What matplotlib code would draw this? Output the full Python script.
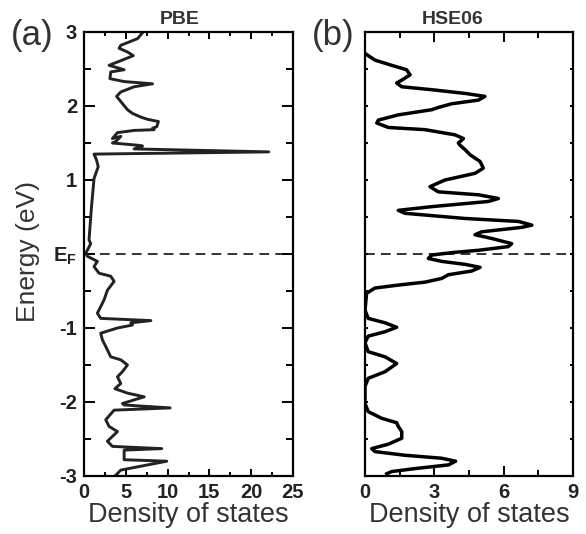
import numpy as np
import matplotlib
matplotlib.use("Agg")
from matplotlib import pyplot as plt
from matplotlib.ticker import MultipleLocator, FixedLocator

plt.rcParams['font.family'] = ['Liberation Sans', 'DejaVu Sans']
plt.rcParams['mathtext.fontset'] = 'custom'
plt.rcParams['mathtext.bf'] = 'Liberation Sans:bold'
plt.rcParams['mathtext.rm'] = 'Liberation Sans'

# PBE density of states (dos, energy), top to bottom
pbe_dos = [7.0, 6.4, 4.4, 4.2, 5.2, 5.9, 4.8, 3.0, 4.8, 3.2, 3.1, 4.8, 8.2, 6.0, 4.4, 3.9, 4.4,
           5.2, 5.8, 6.8, 7.6, 8.9, 8.7, 8.2, 8.4, 6.0, 4.0, 3.4, 4.4, 3.8, 3.4,
           6.4, 7.0, 6.0, 22.1, 1.2, 1.5, 1.7, 1.2, 0.9, 0.6, 0.8, 0.4, 0.2,
           0.4, 1.6, 1.2, 1.8, 3.2, 3.6, 3.4, 2.8, 2.4, 1.6, 2.0, 8.0, 5.6, 5.8, 4.0,
           2.0, 2.2, 2.6, 3.2, 4.4, 5.2, 4.6, 4.0, 4.4, 3.7, 5.2, 7.2, 4.6, 4.8, 10.3,
           3.6, 2.6, 3.0, 4.0, 2.8, 3.4, 9.3, 4.8, 4.8, 9.9, 4.4, 3.8]
pbe_e = [2.99, 2.91, 2.82, 2.78, 2.73, 2.68, 2.63, 2.55, 2.49, 2.46, 2.37, 2.33, 2.30, 2.26, 2.19,
         2.13, 2.06, 1.95, 1.90, 1.85, 1.82, 1.79, 1.72, 1.70, 1.68, 1.67, 1.64, 1.56, 1.59, 1.52,
         1.50, 1.47, 1.46, 1.42, 1.38, 1.35, 1.27, 1.18, 1.02, 0.64, 0.19, 0.14, 0.05, 0.01,
         -0.03, -0.10, -0.17, -0.26, -0.30, -0.37, -0.40, -0.49, -0.62, -0.80, -0.87, -0.90,
         -0.93, -0.96, -1.00, -1.07, -1.16, -1.25, -1.39, -1.43, -1.50, -1.59, -1.66, -1.75,
         -1.82, -1.88, -1.93, -2.02, -2.04, -2.08, -2.11, -2.24, -2.33, -2.40, -2.53, -2.60,
         -2.63, -2.65, -2.78, -2.80, -2.92, -2.99]

# HSE06 density of states
hse_dos = [0.0, 0.43, 1.15, 1.80, 1.95, 1.59, 1.37, 1.59, 2.89, 4.33, 5.19, 4.91, 3.75, 3.17,
           2.89, 1.44, 0.58, 0.51, 1.01, 2.60, 3.90, 4.26, 4.04, 4.11, 4.33, 4.55, 4.98, 5.12,
           4.76, 3.46, 2.81, 3.17, 4.91, 5.77, 5.34, 2.89, 1.44, 1.73, 4.33, 6.64, 7.22, 6.78,
           5.05, 4.76, 5.48, 6.35, 6.20, 4.91, 3.80, 2.89, 2.74, 3.32, 4.33, 4.98, 4.62, 3.61,
           3.32, 2.60, 1.44, 0.43, 0.07, 0.0, 0.14, 0.87, 1.37, 0.87, 0.14, 0.0, 0.14, 0.87,
           1.37, 0.87, 0.14, 0.0, 0.0, 0.14, 0.72, 1.37, 1.44, 1.59, 1.59, 1.01, 0.29, 0.43,
           1.73, 3.32, 3.92, 3.61, 2.16, 1.15, 0.94]
hse_e = [2.71, 2.62, 2.55, 2.49, 2.42, 2.35, 2.31, 2.26, 2.22, 2.17, 2.13, 2.08, 2.03, 1.98,
         1.95, 1.88, 1.81, 1.77, 1.71, 1.68, 1.61, 1.56, 1.50, 1.47, 1.41, 1.34, 1.25, 1.16,
         1.09, 1.00, 0.91, 0.84, 0.80, 0.75, 0.71, 0.64, 0.59, 0.55, 0.48, 0.44, 0.39, 0.36,
         0.30, 0.26, 0.21, 0.14, 0.10, 0.05, 0.02, -0.014, -0.06, -0.10, -0.14, -0.18, -0.23,
         -0.28, -0.33, -0.38, -0.42, -0.46, -0.53, -0.76, -0.87, -0.93, -0.99, -1.05, -1.11,
         -1.20, -1.32, -1.39, -1.48, -1.59, -1.68, -1.79, -2.02, -2.13, -2.22, -2.28, -2.33,
         -2.40, -2.49, -2.57, -2.63, -2.67, -2.72, -2.76, -2.80, -2.85, -2.90, -2.94, -2.97]

e_ticks = [-3, -2, -1, 0, 1, 2, 3]
e_labels = ['-3', '-2', '-1', r'$\mathbf{E_F}$', '1', '2', '3']

W, H = 586, 534
fig = plt.figure(figsize=(W / 100, H / 100), dpi=100)
axa = fig.add_axes([84 / W, 1 - 476 / H, 209 / W, 444 / H])
axb = fig.add_axes([365 / W, 1 - 476 / H, 208 / W, 444 / H])

for ax in (axa, axb):
    for s in ax.spines.values():
        s.set_linewidth(1.6)
    ax.set_ylim(-3, 3)
    ax.axhline(0, color='#333333', lw=1.4, ls=(0, (5, 3.2)), zorder=1)
    ax.yaxis.set_minor_locator(MultipleLocator(0.5))
    ax.tick_params(which='both', direction='in', top=True, right=True, width=1.4,
                   labelsize=14.5, pad=5, labelcolor='#222222')

axa.plot(pbe_dos, pbe_e, color='#222222', lw=2.1, solid_joinstyle='round')
axa.set_xlim(0, 25)
axa.xaxis.set_major_locator(MultipleLocator(5))
axa.xaxis.set_minor_locator(MultipleLocator(2.5))
axa.yaxis.set_major_locator(FixedLocator(e_ticks))
axa.set_yticklabels(e_labels)
axa.tick_params(axis='y', which='major', length=8)
axa.tick_params(axis='y', which='minor', length=5)
axa.tick_params(axis='x', which='major', length=5)
axa.tick_params(axis='x', which='minor', length=3)
for lab in axa.get_xticklabels() + axa.get_yticklabels():
    lab.set_fontweight('bold')
axa.set_xlabel('Density of states', fontsize=19.5, color='#333333', labelpad=0)
axa.set_title('PBE', fontsize=14, fontweight='bold', color='#333333', pad=6, x=0.46)

axb.plot(hse_dos, hse_e, color='black', lw=2.5, solid_joinstyle='round')
axb.set_xlim(0, 9)
axb.xaxis.set_major_locator(MultipleLocator(3))
axb.xaxis.set_minor_locator(MultipleLocator(1.5))
axb.yaxis.set_major_locator(MultipleLocator(1))
axb.tick_params(axis='y', which='both', length=2.5, labelleft=False)
axb.tick_params(axis='x', which='major', length=7)
axb.tick_params(axis='x', which='minor', length=4.5)
for lab in axb.get_xticklabels():
    lab.set_fontweight('bold')
axb.set_xlabel('Density of states', fontsize=19.5, color='#333333', labelpad=0)
axb.set_title('HSE06', fontsize=14, fontweight='bold', color='#333333', pad=6, x=0.42)

fig.text(28 / W, 1 - 252 / H, 'Energy (eV)', fontsize=19, color='#333333',
         rotation=90, ha='center', va='center')
fig.text(11 / W, 1 - 35 / H, '(a)', fontsize=25, color='#333333', va='center')
fig.text(312 / W, 1 - 35 / H, '(b)', fontsize=25, color='#333333', va='center')

fig.savefig('out.png', dpi=100)
